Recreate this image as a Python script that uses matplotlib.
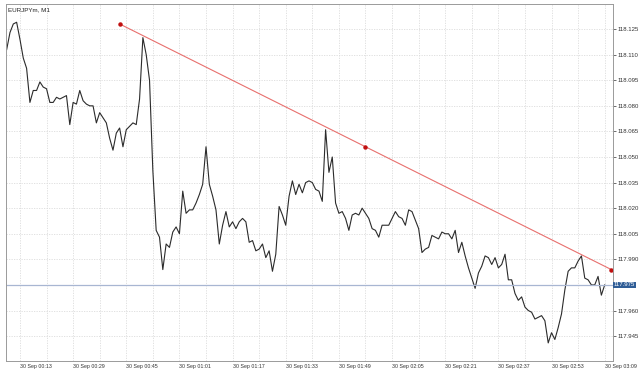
import matplotlib
matplotlib.use("Agg")
from matplotlib import pyplot as plt

plt.rcParams["font.family"] = ["Liberation Sans", "DejaVu Sans"]

# chart title shown top-left
symbol = "EURJPYm, M1"

# first bar time of the series (30 Sep)
start_time = "00:09"

# M1 closes, one per minute from 00:09 to 03:09
close = [
    118.113, 118.123, 118.128, 118.129, 118.119, 118.108, 118.102, 118.082, 118.089, 118.089,
    118.094, 118.091, 118.090, 118.082, 118.082, 118.085, 118.084, 118.085, 118.086, 118.069,
    118.082, 118.081, 118.089, 118.083, 118.081, 118.080, 118.080, 118.070, 118.076, 118.073,
    118.070, 118.061, 118.054, 118.064, 118.067, 118.056, 118.066, 118.068, 118.070, 118.069,
    118.084, 118.120, 118.110, 118.095, 118.042, 118.007, 118.003, 117.984, 117.999, 117.997,
    118.006, 118.009, 118.005, 118.030, 118.017, 118.019, 118.019, 118.023, 118.028, 118.034,
    118.056, 118.034, 118.027, 118.019, 117.999, 118.010, 118.018, 118.009, 118.012, 118.008,
    118.012, 118.014, 118.012, 118.000, 118.001, 117.995, 117.996, 117.999, 117.991, 117.995,
    117.983, 117.993, 118.021, 118.016, 118.010, 118.027, 118.036, 118.028, 118.034, 118.029,
    118.035, 118.036, 118.035, 118.031, 118.030, 118.024, 118.066, 118.041, 118.050, 118.023,
    118.017, 118.018, 118.014, 118.007, 118.016, 118.017, 118.016, 118.020, 118.017, 118.014,
    118.008, 118.007, 118.003, 118.010, 118.010, 118.010, 118.014, 118.018, 118.015, 118.014,
    118.010, 118.019, 118.018, 118.013, 118.008, 117.994, 117.996, 117.997, 118.004, 118.003,
    118.002, 118.006, 118.005, 118.005, 118.002, 118.007, 117.994, 118.000, 117.992, 117.985,
    117.979, 117.973, 117.982, 117.986, 117.992, 117.991, 117.987, 117.991, 117.985, 117.987,
    117.993, 117.978, 117.978, 117.970, 117.966, 117.968, 117.962, 117.960, 117.959, 117.955,
    117.956, 117.957, 117.954, 117.941, 117.947, 117.943, 117.950, 117.958, 117.972, 117.983,
    117.985, 117.985, 117.989, 117.992, 117.979, 117.978, 117.975, 117.975, 117.980, 117.969,
    117.975,
]

# trend line anchor points (bar number, price)
trend_bars = [34, 108, 182]
trend_prices = [118.128, 118.056, 117.984]

last_price = 117.975

price_ticks = [117.945, 117.960, 117.975, 117.990, 118.005, 118.020, 118.035,
               118.050, 118.065, 118.080, 118.095, 118.110, 118.125]
time_labels = ["00:13", "00:29", "00:45", "01:01", "01:17", "01:33",
               "01:49", "02:05", "02:21", "02:37", "02:53", "03:09"]


def minutes(hhmm):
    h, m = hhmm.split(":")
    return int(h) * 60 + int(m)


t0 = minutes(start_time)
bars = list(range(len(close)))
label_pos = [minutes(t) - t0 for t in time_labels]
grid_pos = [p + d for p in label_pos for d in (0, 8)]

fig = plt.figure(figsize=(6.4, 3.71), dpi=100)
ax = fig.add_axes([6 / 640, 10 / 371, 607 / 640, 357 / 371])

ax.plot(bars, close, color="#2b2b2b", lw=0.8)
ax.axhline(last_price, color="#a8b6d2", lw=0.9)
ax.plot(trend_bars, trend_prices, color="#e8706e", lw=0.8)
ax.plot(trend_bars, trend_prices, "o", color="#c01010", ms=2.2, ls="none")

ax.set_xlim(-0.2, 182.5)
ax.set_ylim(117.9304, 118.1397)

# grid: horizontal at price ticks, vertical every 8 minutes
for y in price_ticks:
    ax.axhline(y, color="#dcdcdc", lw=0.6, ls=(0, (1.5, 1.5)), zorder=0)
for x in grid_pos:
    ax.axvline(x, color="#dcdcdc", lw=0.6, ls=(0, (1.5, 1.5)), zorder=0)

ax.yaxis.tick_right()
ax.set_yticks(price_ticks)
# the last-price box covers its own tick label
ax.set_yticklabels(["" if p == last_price else f"{p:.3f}" for p in price_ticks])
ax.set_xticks(label_pos)
ax.set_xticklabels(["30 Sep " + t for t in time_labels], ha="left")
ax.tick_params(axis="y", length=2, width=0.5, pad=1, labelsize=4.3,
               colors="#333333")
ax.tick_params(axis="x", length=0, pad=2.5, labelsize=3.8, colors="#333333")

for s in ax.spines.values():
    s.set_color("#9a9a9a")
    s.set_linewidth(0.7)

ax.text(0.003, 0.992, symbol, transform=ax.transAxes, fontsize=4.5,
        va="top", ha="left", color="#222222")

ax.text(1.0015, last_price, f"{last_price:.3f}", transform=ax.get_yaxis_transform(),
        fontsize=4.3, color="white", va="center", ha="left",
        bbox=dict(boxstyle="square,pad=0.15", fc="#2f5d96", ec="none"))

fig.savefig("out.png", dpi=100)
